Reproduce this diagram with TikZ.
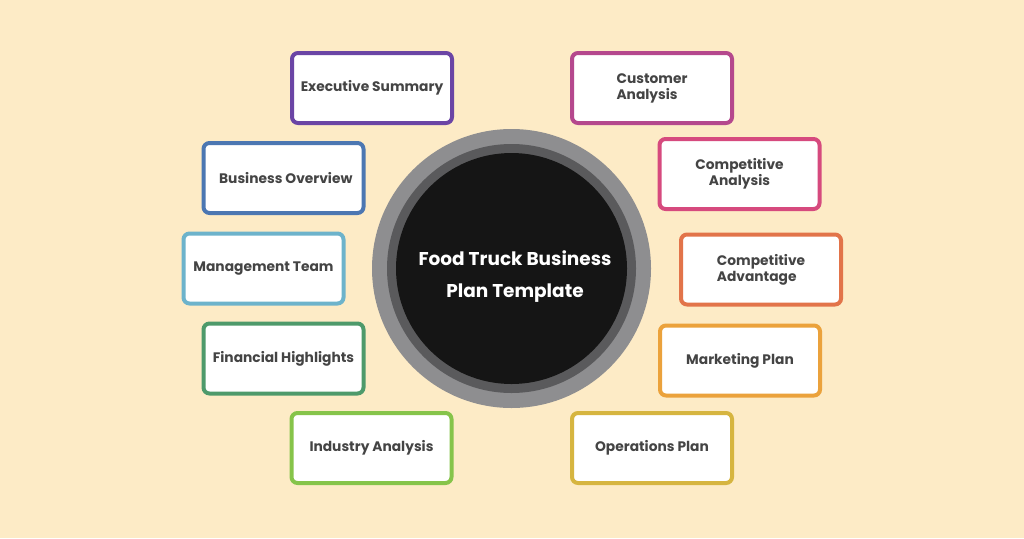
\documentclass[tikz,border=0pt]{standalone}
\usepackage{fontspec}
\setmainfont{Poppins}
\usetikzlibrary{positioning}
\definecolor{bg}{HTML}{FDEBC6}
\definecolor{txt}{HTML}{444444}
\definecolor{ringA}{HTML}{8E8E90}
\definecolor{ringB}{HTML}{5A5A5C}
\definecolor{core}{HTML}{151515}
\definecolor{cES}{HTML}{6B45A5}
\definecolor{cBO}{HTML}{4C77B2}
\definecolor{cMT}{HTML}{6DB3CB}
\definecolor{cFH}{HTML}{4E9A6B}
\definecolor{cIA}{HTML}{86C44A}
\definecolor{cCA}{HTML}{B5488D}
\definecolor{cCmA}{HTML}{D64A7E}
\definecolor{cCAd}{HTML}{E2744A}
\definecolor{cMP}{HTML}{EBA23C}
\definecolor{cOP}{HTML}{D6B540}

\begin{document}
\begin{tikzpicture}[x=1pt,y=-1pt,line width=4pt]
\tikzstyle{box}=[draw,fill=white,rounded corners=6pt,minimum width=160pt,minimum height=70pt,
	text=txt,font=\fontsize{13.8}{16}\selectfont\bfseries,align=center,inner sep=2pt]
\useasboundingbox (0,0) rectangle (1024,538);
\fill[bg] (0,0) rectangle (1024,538);
% centre
\fill[ringA]	(511.5,268.5)	circle (139.5pt);
\fill[ringB]	(511.5,268.5)	circle (124.5pt);
\fill[core]	(511.5,268.5)	circle (115.5pt);
\node	(C)	at (515,277)	[text=white,align=center,font=\fontsize{18.5}{32}\selectfont\bfseries]	{Food Truck Business\\Plan Template};
% left side
\node[box,draw=cES]	(ES)	at (372,88)		{Executive Summary};
\node[box,draw=cBO]	(BO)	at (283.5,178)	{\,\,Business Overview};
\node[box,draw=cMT]	(MT)	at (263.5,268.5)	{Management Team};
\node[box,draw=cFH]	(FH)	at (283.5,358.5)	{Financial Highlights};
\node[box,draw=cIA]	(IA)	at (371.5,448)	{Industry Analysis};
% right side
\node[box,draw=cCA,align=left]	(CA)	at (652,88)		{Customer\\Analysis};
\node[box,draw=cCmA]	(CmA)	at (739.5,174)	{Competitive\\Analysis};
\node[box,draw=cCAd,align=left]	(CAd)	at (761,269.5)	{Competitive\\Advantage};
\node[box,draw=cMP]	(MP)	at (740,360.5)	{Marketing Plan};
\node[box,draw=cOP]	(OP)	at (652,448)	{Operations Plan};
\end{tikzpicture}
\end{document}
